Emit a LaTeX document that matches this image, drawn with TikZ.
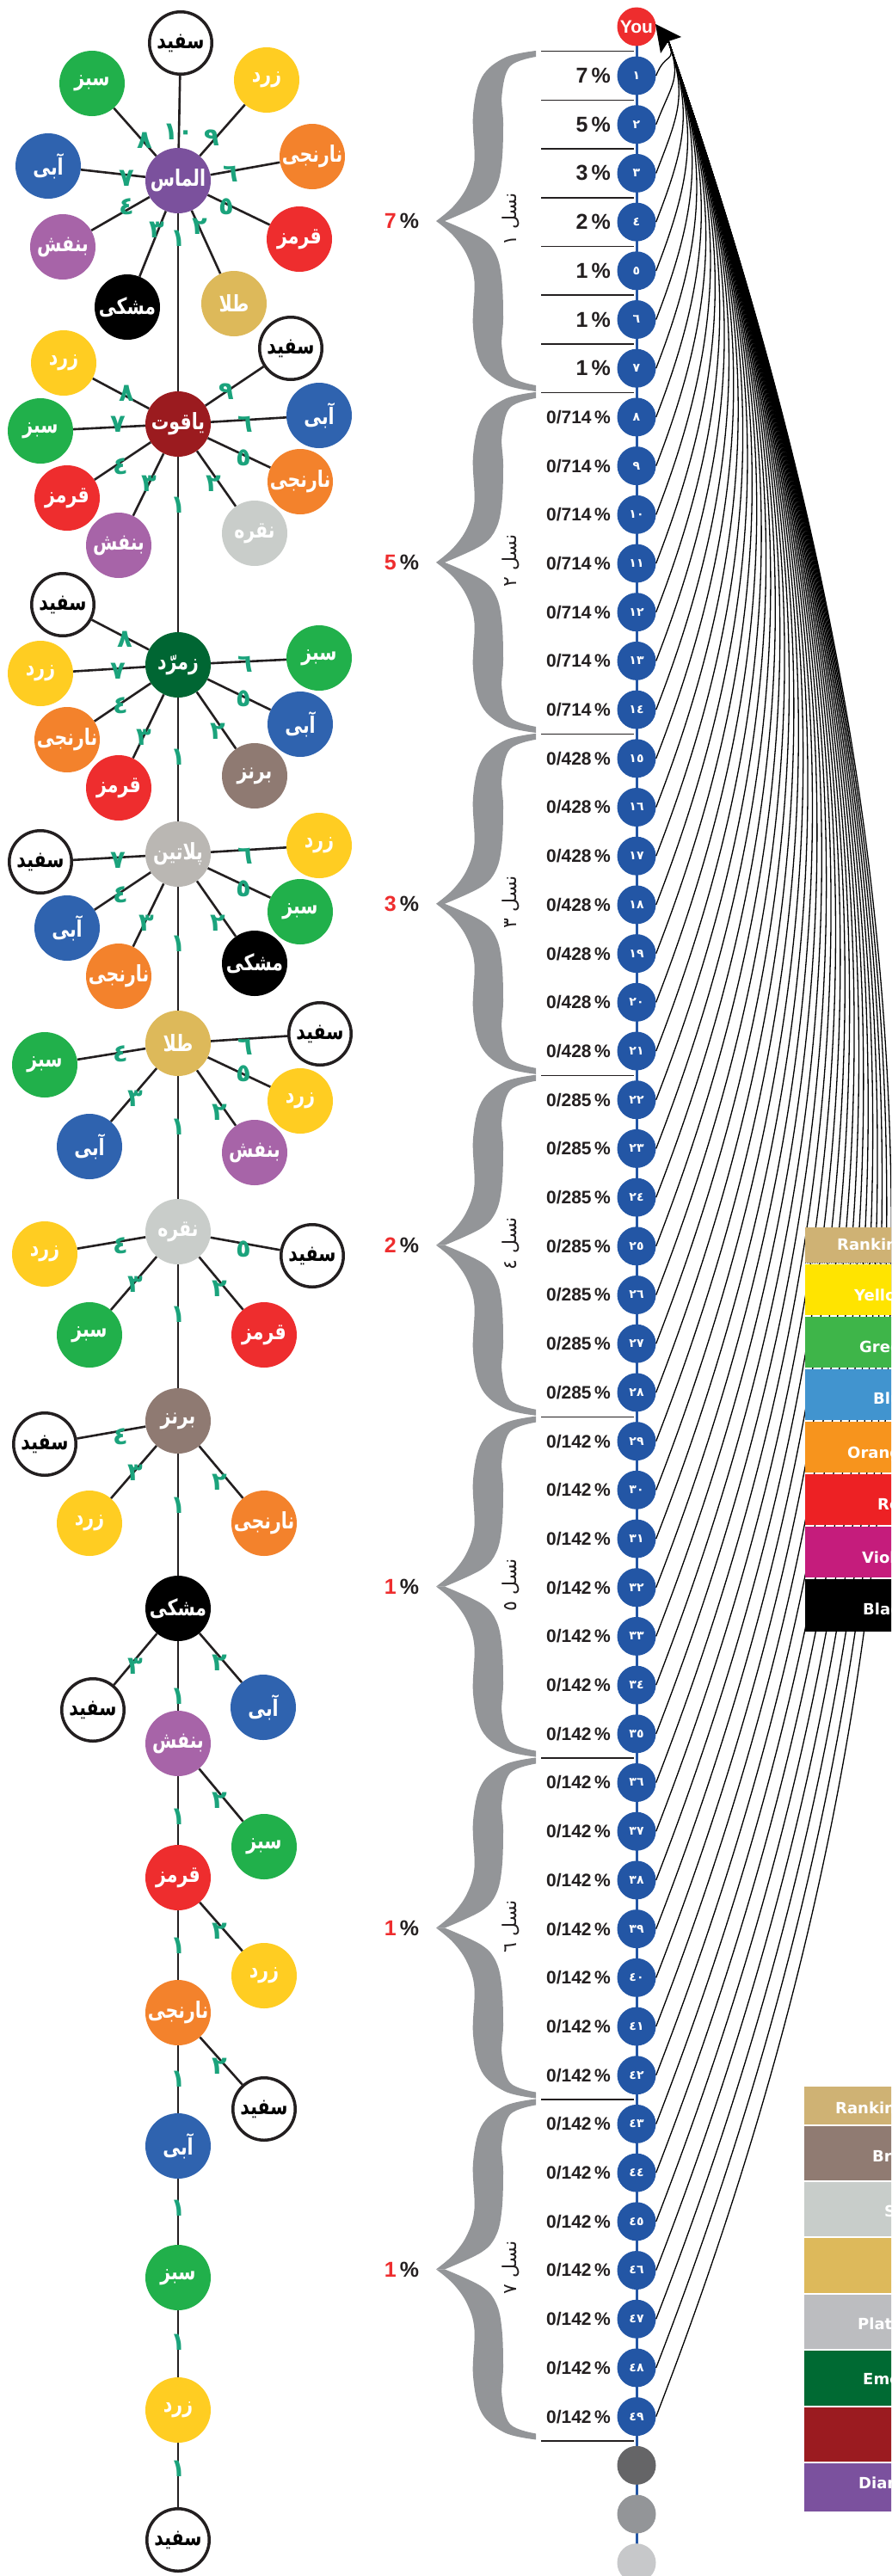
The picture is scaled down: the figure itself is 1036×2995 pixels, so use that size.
\documentclass[tikz,border=0pt]{standalone}
\usepackage{fontspec}
\usepackage{graphicx}
\setmainfont{Liberation Sans}
\newfontfamily\arfont[Script=Arabic]{DejaVu Sans}
\newfontfamily\legfont{DejaVu Sans}
\TeXXeTstate=1
\usetikzlibrary{calc}
\pgfdeclarelayer{bg}
\pgfsetlayers{bg,main}
\definecolor{cdia}{HTML}{7B519D}
\definecolor{cruby}{HTML}{9B1B1F}
\definecolor{cemer}{HTML}{006633}
\definecolor{cplat}{HTML}{BAB7B3}
\definecolor{cgold}{HTML}{DDB95A}
\definecolor{csilv}{HTML}{C9CDCA}
\definecolor{cbron}{HTML}{8F7A72}
\definecolor{cviol}{HTML}{A764A8}
\definecolor{cred}{HTML}{EE2D2E}
\definecolor{corng}{HTML}{F3822C}
\definecolor{cblue}{HTML}{2F63AF}
\definecolor{cgreen}{HTML}{21B04B}
\definecolor{cyell}{HTML}{FFCD22}
\definecolor{cnum}{HTML}{1BA37C}
\definecolor{cdark}{HTML}{231F20}
\definecolor{cbc}{HTML}{2356A5}
\definecolor{cbrace}{HTML}{939598}
\definecolor{ctan}{HTML}{CFB274}
\definecolor{lyell}{HTML}{FFE400}
\definecolor{lgreen}{HTML}{3EB549}
\definecolor{lblue}{HTML}{4194CF}
\definecolor{lorng}{HTML}{F7941D}
\definecolor{lred}{HTML}{ED2124}
\definecolor{lviol}{HTML}{C51C7C}
\definecolor{lbron}{HTML}{907B72}
\definecolor{lsilv}{HTML}{C8CDCA}
\definecolor{lgold}{HTML}{DDB95B}
\definecolor{lplat}{HTML}{BCBDC0}
\definecolor{lemer}{HTML}{006A33}
\definecolor{lruby}{HTML}{9B1B20}
\definecolor{ldia}{HTML}{7B519E}
\definecolor{gA}{HTML}{656567}
\definecolor{gB}{HTML}{939598}
\definecolor{gC}{HTML}{C7C8CA}
\tikzset{
  disc/.style={circle, minimum size=76pt, inner sep=0pt, text=white,
    font=\arfont\bfseries\fontsize{25}{26}\selectfont},
  swhi/.style={disc, fill=white, draw=cdark, line width=3.5pt, minimum size=72.5pt, text=black},
  sgre/.style={disc, fill=cgreen}, syel/.style={disc, fill=cyell},
  sora/.style={disc, fill=corng}, sred/.style={disc, fill=cred},
  svio/.style={disc, fill=cviol}, sblu/.style={disc, fill=cblue},
  sblk/.style={disc, fill=black}, sgol/.style={disc, fill=cgold},
  ssil/.style={disc, fill=csilv}, sbro/.style={disc, fill=cbron},
  spoke/.style={draw=cdark, line width=2.6pt},
  num/.style={text=cnum, inner sep=0pt, font=\arfont\bfseries\fontsize{29}{29}\selectfont},
  bcirc/.style={circle, fill=cbc, minimum size=45pt, inner sep=0pt, text=white,
    font=\arfont\bfseries\fontsize{14}{14}\selectfont},
  pctA/.style={anchor=east, inner sep=0pt, text=cdark, font=\bfseries\fontsize{25}{27}\selectfont},
  pctB/.style={anchor=east, inner sep=0pt, text=cdark, font=\bfseries\fontsize{21}{23}\selectfont},
  lpct/.style={inner sep=0pt, text=cdark, font=\bfseries\fontsize{25}{27}\selectfont},
  genlab/.style={inner sep=0pt, text=cdark, font=\arfont\fontsize{22}{24}\selectfont},
  sepl/.style={draw=cdark, line width=1.5pt},
  curv/.style={draw=black, line width=1.3pt},
  legtxt/.style={anchor=base west, inner sep=0pt, text=white, font=\legfont\bfseries\fontsize{18}{20}\selectfont},
  gbrace/.pic={
    \fill[cbrace] plot[smooth,tension=0.6] coordinates {(116,-198) (80,-190) (53,-167) (43,-124) (44.5,-70) (36,-40) (20,-17) (0,0)}
      -- plot[smooth,tension=0.6] coordinates {(10,0) (53,-20) (70,-40) (76.5,-70) (78,-114) (76.5,-147) (86,-180) (116,-191)} -- cycle;
    \fill[cbrace] plot[smooth,tension=0.6] coordinates {(116,198) (80,190) (53,167) (43,124) (44.5,70) (36,40) (20,17) (0,0)}
      -- plot[smooth,tension=0.6] coordinates {(10,0) (53,20) (70,40) (76.5,70) (78,114) (76.5,147) (86,180) (116,191)} -- cycle;
  }
}
\newcommand\fw[1]{\makebox[0pt]{\scalebox{0.82}[1.05]{\beginR #1\endR}}}
\newcommand\sat[9]{%
  \node[#4] (#1) at (#2,#3) {\fw{#5}};
  \begin{pgfonlayer}{bg}\draw[spoke] (#6) -- (#1);\end{pgfonlayer}
  \node[num] (n#1) at (#8,#9) {#7};}
\newcommand\genpct[1]{\ifcase#1\or\or 0/714\or 0/428\or 0/285\or 0/142\or 0/142\or 0/142\fi}
\begin{document}
\begin{tikzpicture}[x=1pt,y=-1pt]
\useasboundingbox (0,0) rectangle (1036,2995);
\begin{pgfonlayer}{bg}
\fill[white] (0,0) rectangle (1036,2995);
\end{pgfonlayer}
\clip (0,0) rectangle (1036,2995);
% ---------------- tree: hubs
\node[disc, fill=cdia] (h1) at (207,210) {\fw{الماس}};
\node[disc, fill=cruby] (h2) at (207,493) {\fw{یاقوت}};
\node[disc, fill=cemer] (h3) at (207,773) {\fw{زمرّد}};
\node[disc, fill=cplat] (h4) at (207,993) {\fw{پلاتین}};
\node[disc, fill=cgold] (h5) at (207,1213) {\fw{طلا}};
\node[disc, fill=csilv] (h6) at (207,1432) {\fw{نقره}};
\node[disc, fill=cbron] (h7) at (207,1652) {\fw{برنز}};
\node[disc, fill=black] (h8) at (207,1870) {\fw{مشکی}};
\node[disc, fill=cviol] (h9) at (207,2027) {\fw{بنفش}};
\node[disc, fill=cred] (h10) at (207,2183) {\fw{قرمز}};
\node[disc, fill=corng] (h11) at (207,2340) {\fw{نارنجی}};
\node[disc, fill=cblue] (h12) at (207,2495) {\fw{آبی}};
\node[disc, fill=cgreen] (h13) at (207,2648) {\fw{سبز}};
\node[disc, fill=cyell] (h14) at (207,2802) {\fw{زرد}};
\node[swhi] (h15) at (207,2953) {\fw{سفید}};
\begin{pgfonlayer}{bg}
\draw[spoke] (h1) -- (h2) -- (h3) -- (h4) -- (h5) -- (h6) -- (h7) -- (h8) -- (h9) -- (h10) -- (h11) -- (h12) -- (h13) -- (h14) -- (h15);
\end{pgfonlayer}
\foreach \yy [count=\i] in {277,587,880,1097,1310,1528,1750,1972,2112,2262,2417,2567,2723,2870}
  \node[num] (tn\i) at (207,\yy) {١};
% ---------------- satellites
\sat{a10}{210}{50}{swhi}{سفید}{h1}{١٠}{207}{153}
\sat{a9}{310}{93}{syel}{زرد}{h1}{٩}{246}{160}
\sat{a6}{363}{182}{sora}{نارنجی}{h1}{٦}{268}{202}
\sat{a5}{348}{278}{sred}{قرمز}{h1}{٥}{263}{240}
\sat{a2}{272}{353}{sgol}{طلا}{h1}{٢}{232}{263}
\sat{a3}{148}{357}{sblk}{مشکی}{h1}{٣}{182}{267}
\sat{a4}{73}{287}{svio}{بنفش}{h1}{٤}{147}{240}
\sat{a7}{56}{193}{sblu}{آبی}{h1}{٧}{147}{207}
\sat{a8}{107}{97}{sgre}{سبز}{h1}{٨}{168}{163}
\sat{y9}{338}{405}{swhi}{سفید}{h2}{٩}{263}{455}
\sat{y6}{371}{483}{sblu}{آبی}{h2}{٦}{285}{493}
\sat{y5}{349}{560}{sora}{نارنجی}{h2}{٥}{283}{532}
\sat{y2}{296}{620}{ssil}{نقره}{h2}{٢}{248}{562}
\sat{y3}{138}{634}{svio}{بنفش}{h2}{٣}{173}{562}
\sat{y4}{78}{579}{sred}{قرمز}{h2}{٤}{140}{542}
\sat{y7}{47}{501}{sgre}{سبز}{h2}{٧}{137}{493}
\sat{y8}{74}{422}{syel}{زرد}{h2}{٨}{147}{457}
\sat{z8}{73}{703}{swhi}{سفید}{h3}{٨}{145}{743}
\sat{z7}{47}{783}{syel}{زرد}{h3}{٧}{137}{780}
\sat{z6}{371}{765}{sgre}{سبز}{h3}{٦}{285}{772}
\sat{z5}{349}{842}{sblu}{آبی}{h3}{٥}{283}{812}
\sat{z2}{296}{902}{sbro}{برنز}{h3}{٢}{253}{850}
\sat{z3}{138}{916}{sred}{قرمز}{h3}{٣}{167}{857}
\sat{z4}{78}{860}{sora}{نارنجی}{h3}{٤}{140}{820}
\sat{p6}{371}{983}{syel}{زرد}{h4}{٦}{285}{995}
\sat{p5}{349}{1060}{sgre}{سبز}{h4}{٥}{283}{1033}
\sat{p2}{296}{1120}{sblk}{مشکی}{h4}{٢}{253}{1073}
\sat{p3}{138}{1135}{sora}{نارنجی}{h4}{٣}{170}{1073}
\sat{p4}{78}{1079}{sblu}{آبی}{h4}{٤}{140}{1040}
\sat{p7}{47}{1002}{swhi}{سفید}{h4}{٧}{137}{1000}
\sat{t6}{372}{1202}{swhi}{سفید}{h5}{٦}{285}{1217}
\sat{t5}{349}{1280}{syel}{زرد}{h5}{٥}{283}{1248}
\sat{t2}{296}{1340}{svio}{بنفش}{h5}{٢}{255}{1293}
\sat{t3}{104}{1333}{sblu}{آبی}{h5}{٣}{157}{1277}
\sat{t4}{52}{1238}{sgre}{سبز}{h5}{٤}{140}{1225}
\sat{s5}{363}{1460}{swhi}{سفید}{h6}{٥}{283}{1452}
\sat{s2}{307}{1552}{sred}{قرمز}{h6}{٢}{255}{1498}
\sat{s3}{104}{1552}{sgre}{سبز}{h6}{٣}{157}{1493}
\sat{s4}{52}{1458}{syel}{زرد}{h6}{٤}{140}{1448}
\sat{b4}{52}{1679}{swhi}{سفید}{h7}{٤}{140}{1670}
\sat{b3}{104}{1771}{syel}{زرد}{h7}{٣}{157}{1712}
\sat{b2}{307}{1771}{sora}{نارنجی}{h7}{٢}{255}{1723}
\sat{m3}{108}{1988}{swhi}{سفید}{h8}{٣}{157}{1937}
\sat{m2}{306}{1985}{sblu}{آبی}{h8}{٢}{255}{1933}
\sat{v2}{307}{2147}{sgre}{سبز}{h9}{٢}{255}{2093}
\sat{r2}{307}{2297}{syel}{زرد}{h10}{٢}{255}{2245}
\sat{o2}{307}{2452}{swhi}{سفید}{h11}{٢}{255}{2402}
% ---------------- middle column
\node[circle, fill=cred, minimum size=45pt, inner sep=0pt, text=white, font=\bfseries\fontsize{21}{21}\selectfont] (you) at (740,31) {You};
\foreach \k/\lab in {1/١,2/٢,3/٣,4/٤,5/٥,6/٦,7/٧,8/٨,9/٩,10/١٠,11/١١,12/١٢,13/١٣,14/١٤,15/١٥,16/١٦,17/١٧,18/١٨,19/١٩,20/٢٠,21/٢١,22/٢٢,23/٢٣,24/٢٤,25/٢٥,26/٢٦,27/٢٧,28/٢٨,29/٢٩,30/٣٠,31/٣١,32/٣٢,33/٣٣,34/٣٤,35/٣٥,36/٣٦,37/٣٧,38/٣٨,39/٣٩,40/٤٠,41/٤١,42/٤٢,43/٤٣,44/٤٤,45/٤٥,46/٤٦,47/٤٧,48/٤٨,49/٤٩}{
  \pgfmathsetmacro\yk{88+(\k-1)*56.7}
  \node[bcirc] (c\k) at (740,\yk) {\lab};
}
\node[circle, fill=gA, minimum size=45pt, inner sep=0pt] (g1) at (740,2866.3) {};
\node[circle, fill=gB, minimum size=45pt, inner sep=0pt] (g2) at (740,2923) {};
\node[circle, fill=gC, minimum size=45pt, inner sep=0pt] (g3) at (740,2979.7) {};
\begin{pgfonlayer}{bg}
\draw[cbc, line width=3pt] (you.center) -- (g3.center);
\end{pgfonlayer}
\foreach \k/\p in {1/7,2/5,3/3,4/2,5/1,6/1,7/1}
  \node[pctA] (q\k) at (710,{88+(\k-1)*56.7}) {\p\,\%};
\foreach \k in {8,...,49}{
  \pgfmathtruncatemacro\g{int((\k-1)/7)+1}
  \pgfmathsetmacro\yk{88+(\k-1)*56.7}
  \node[pctB] (q\k) at (710,\yk) {\genpct{\g}\,\%};
}
\foreach \j in {0,...,7,14,21,28,35,42,49}
  \draw[sepl] (629,{59.65+\j*56.7}) -- (737,{59.65+\j*56.7});
\foreach \g/\lp/\gl in {1/7/١,2/5/٢,3/3/٣,4/2/٤,5/1/٥,6/1/٦,7/1/٧}{
  \pgfmathsetmacro\ty{257+(\g-1)*396.9}
  \pic at (507,\ty) {gbrace};
  \node[genlab, rotate=90] (gl\g) at (594,{\ty-2}) {\beginR نسل \gl\endR};
  \node[lpct] (lp\g) at (467,\ty) {\textcolor{cred}{\lp}\,\%};
}
% ---------------- curves and arrow
\coordinate (arrT) at (762,28);
\coordinate (arrA) at (792,43);
\coordinate (arrB) at (768,62);
\coordinate (arrE) at (777,48);
\foreach \k in {1,...,49}{
  \pgfmathsetmacro\yk{88+(\k-1)*56.7}
  \pgfmathsetmacro\slen{0.40*(\yk-48)+15}
  \pgfmathsetmacro\tlen{0.33*(\yk-48)+15}
  \draw[curv] (c\k.east) .. controls ($(c\k.east)+(0.36*\slen,-0.93*\slen)$) and ($(arrE)+(0.33*\tlen,0.944*\tlen)$) .. (arrE);
}
\fill[black] (arrT) -- (arrA) -- (arrE) -- (arrB) -- cycle;
% ---------------- legends
\fill[ctan] (936,1427) rectangle (1100,1468);
\draw[black!70, densely dotted, line width=1pt] (936,1468.5) -- (1100,1468.5);
\fill[lyell] (936,1470) rectangle (1100,1529);
\fill[lgreen] (936,1531) rectangle (1100,1590);
\fill[lblue] (936,1592) rectangle (1100,1651);
\fill[lorng] (936,1653) rectangle (1100,1712);
\fill[lred] (936,1714) rectangle (1100,1773);
\fill[lviol] (936,1775) rectangle (1100,1834);
\fill[black] (936,1836) rectangle (1100,1897);
\node[legtxt] (lt0) at (973,1453) {Ranking};
\node[legtxt] (lt1) at (993,1512) {Yellow};
\node[legtxt] (lt2) at (999,1572) {Green};
\node[legtxt] (lt3) at (1015,1632) {Blue};
\node[legtxt] (lt4) at (985,1695) {Orange};
\node[legtxt] (lt5) at (1020,1755) {Red};
\node[legtxt] (lt6) at (1002,1817) {Violet};
\node[legtxt] (lt7) at (1003,1877) {Black};
\fill[ctan] (935,2426) rectangle (1100,2470);
\fill[lbron] (935,2472) rectangle (1100,2535);
\fill[lsilv] (935,2537) rectangle (1100,2600);
\fill[lgold] (935,2602) rectangle (1100,2666);
\fill[lplat] (935,2668) rectangle (1100,2731);
\fill[lemer] (935,2733) rectangle (1100,2797);
\fill[lruby] (935,2799) rectangle (1100,2862);
\fill[ldia] (935,2864) rectangle (1100,2920);
\node[legtxt] (lb0) at (971,2457) {Ranking};
\node[legtxt] (lb1) at (1014,2513) {Bronze};
\node[legtxt] (lb2) at (1028,2577) {Silver};
\node[legtxt] (lb4) at (997,2708) {Platinum};
\node[legtxt] (lb5) at (1003,2772) {Emerald};
\node[legtxt] (lb7) at (998,2893) {Diamond};
\end{tikzpicture}
\end{document}
